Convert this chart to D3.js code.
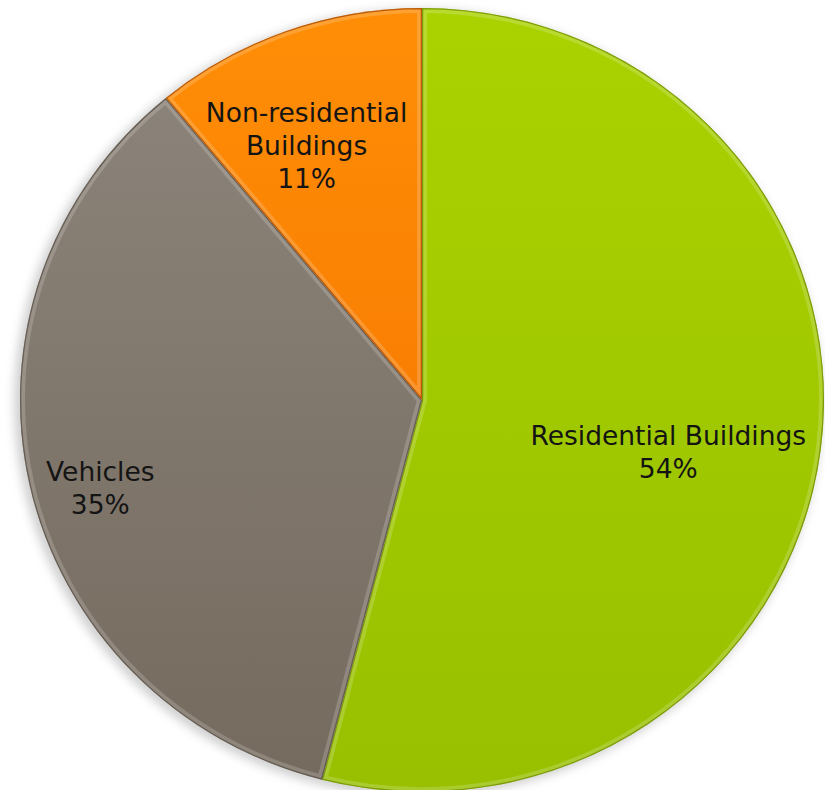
<!DOCTYPE html>
<html>
<head>
<meta charset="utf-8">
<script src="https://cdn.jsdelivr.net/npm/d3@7/dist/d3.min.js"></script>
<style>
  html, body { margin: 0; padding: 0; background: #ffffff; }
  svg { display: block; }
  .lbl { font-family: "DejaVu Sans", sans-serif; font-size: 26.5px; fill: #141414; }
</style>
</head>
<body>
<svg id="chart" width="825" height="790"></svg>
<script>
// data
var categories = ["Residential Buildings", "Vehicles", "Non-residential Buildings"];
var shares = [54, 35, 11];
var labelLines = [["Residential Buildings", "54%"], ["Vehicles", "35%"], ["Non-residential", "Buildings", "11%"]];

// gradient colours (top, bottom) and edge colour per slice
var topColors = ["#aad200", "#8d867c", "#ff8e06"];
var bottomColors = ["#98c000", "#756a5e", "#f26e00"];
var edgeColors = ["#6f8c00", "#5a5046", "#a84a00"];

var svg = d3.select("#chart");
var cx = 422, cy = 400, r = 402, squash = 0.975;

var pieData = categories.map(function(c, i){ return {name: c, value: shares[i], idx: i}; });
var pie = d3.pie().value(function(d){ return d.value; }).sort(null);
var arcs = pie(pieData);
var arc = d3.arc().innerRadius(0).outerRadius(r);

var defs = svg.append("defs");

// soft shadow under the pie
var shadow = defs.append("filter").attr("id", "shadow")
    .attr("x", "-10%").attr("y", "-10%").attr("width", "120%").attr("height", "120%");
shadow.append("feGaussianBlur").attr("stdDeviation", 5);

arcs.forEach(function(a, i){
    var g = defs.append("linearGradient")
        .attr("id", "grad" + i)
        .attr("gradientUnits", "userSpaceOnUse")
        .attr("x1", 0).attr("y1", -r).attr("x2", 0).attr("y2", r);
    g.append("stop").attr("offset", "0%").attr("stop-color", topColors[i]);
    g.append("stop").attr("offset", "100%").attr("stop-color", bottomColors[i]);
    defs.append("clipPath").attr("id", "clip" + i)
        .append("path").attr("d", arc(a));
});

var root = svg.append("g")
    .attr("transform", "translate(" + cx + "," + cy + ") scale(1," + squash + ")");

root.append("circle")
    .attr("cx", -4).attr("cy", 3).attr("r", r + 2)
    .attr("fill", "#9a9a9a").attr("opacity", 0.45)
    .attr("filter", "url(#shadow)");

var slices = root.selectAll("g.slice").data(arcs).enter()
    .append("g").attr("class", "slice");

slices.append("path")
    .attr("d", arc)
    .attr("fill", function(d, i){ return "url(#grad" + i + ")"; });

// bevel: light band inside the edges, clipped to the slice
slices.append("path")
    .attr("d", arc)
    .attr("clip-path", function(d, i){ return "url(#clip" + i + ")"; })
    .attr("fill", "none")
    .attr("stroke", "#ffffff")
    .attr("stroke-opacity", 0.18)
    .attr("stroke-width", 10);

slices.append("path")
    .attr("d", arc)
    .attr("clip-path", function(d, i){ return "url(#clip" + i + ")"; })
    .attr("fill", "none")
    .attr("stroke", function(d, i){ return edgeColors[i]; })
    .attr("stroke-opacity", 0.8)
    .attr("stroke-width", 2.5);

// labels: polar offset from the slice's middle angle
var labelShift = [5, -3, -4];     // degrees
var labelRadius = [252, 334, 286];
var lineGap = 33;

var labels = svg.append("g").attr("transform", "translate(" + cx + "," + cy + ")");
arcs.forEach(function(a, i){
    var mid = (a.startAngle + a.endAngle) / 2 + labelShift[i] * Math.PI / 180;
    var lx = Math.sin(mid) * labelRadius[i];
    var ly = -Math.cos(mid) * labelRadius[i] * squash;
    var lines = labelLines[i];
    var t = labels.append("text").attr("class", "lbl")
        .attr("text-anchor", "middle")
        .attr("x", lx)
        .attr("y", ly - (lines.length - 1) * lineGap / 2 + 10);
    lines.forEach(function(s, k){
        t.append("tspan").attr("x", lx).attr("dy", k === 0 ? 0 : lineGap).text(s);
    });
});
</script>
</body>
</html>
